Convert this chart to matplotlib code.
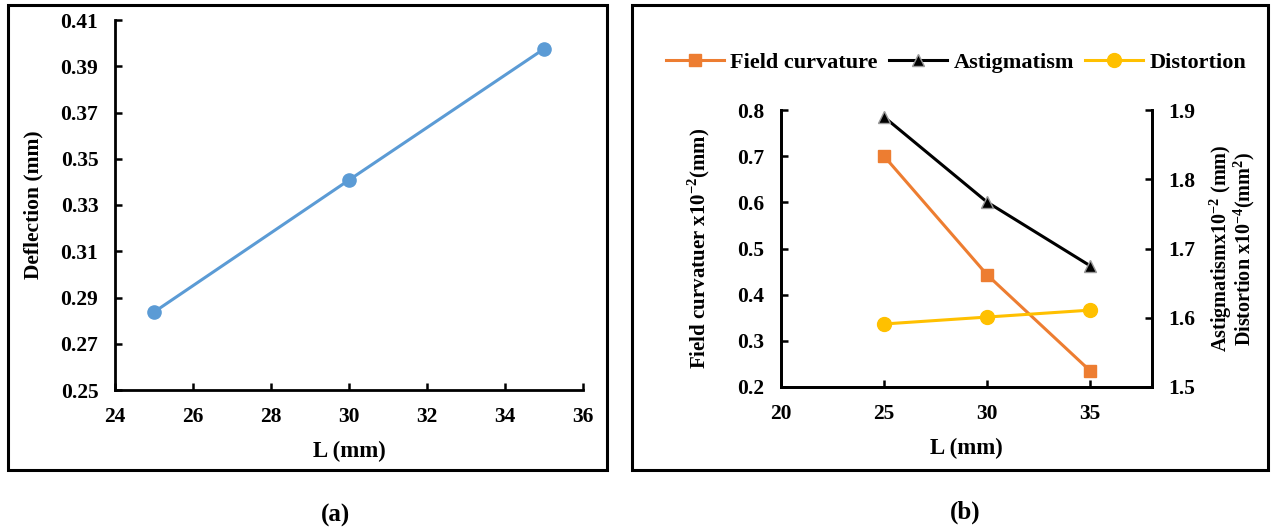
import matplotlib
matplotlib.use('Agg')
from matplotlib import pyplot as plt
from matplotlib.patches import Rectangle

plt.rcParams['font.family'] = ['Liberation Serif', 'DejaVu Serif']
plt.rcParams['font.weight'] = 'bold'
plt.rcParams['mathtext.fontset'] = 'custom'
plt.rcParams['mathtext.rm'] = 'Liberation Serif:bold'
plt.rcParams['mathtext.bf'] = 'Liberation Serif:bold'

# panel (a)
L_a = [25, 30, 35]
deflection = [0.2837, 0.3408, 0.3975]
yticks_a = [0.25, 0.27, 0.29, 0.31, 0.33, 0.35, 0.37, 0.39, 0.41]
xticks_a = [24, 26, 28, 30, 32, 34, 36]

# panel (b)
L_b = [25, 30, 35]
field_curv = [0.700, 0.443, 0.235]
astig = [1.890, 1.767, 1.675]
distortion = [1.591, 1.601, 1.611]
xticks_b = [20, 25, 30, 35]
yticks_b = [0.2, 0.3, 0.4, 0.5, 0.6, 0.7, 0.8]
yticks_b2 = [1.5, 1.6, 1.7, 1.8, 1.9]

blue = '#5B9BD5'
orange = '#ED7D31'
yellow = '#FFC000'

fig = plt.figure(figsize=(12.73, 5.27), dpi=100)

# panel frames
for x0, x1 in [(8, 607), (632, 1268)]:
    fig.patches.append(Rectangle((x0 / 1273, 1 - 470 / 527), (x1 - x0) / 1273, 465 / 527,
                                 transform=fig.transFigure, fill=False, lw=2.2, ec='black'))


def style(ax):
    ax.tick_params(direction='in', length=5, width=1.8, labelsize=15.5, pad=12)
    for s in ax.spines.values():
        s.set_linewidth(2)
    for lab in ax.get_xticklabels() + ax.get_yticklabels():
        lab.set_fontweight('bold')


# (a)
ax1 = fig.add_axes([115 / 1273, 1 - 390 / 527, 468 / 1273, 370 / 527])
ax1.plot(L_a, deflection, color=blue, lw=2.2, marker='o', ms=9.5)
ax1.set_xlim(24, 36)
ax1.set_ylim(0.25, 0.41)
ax1.set_xticks(xticks_a)
ax1.set_yticks(yticks_a)
ax1.set_yticklabels(['%.2f' % v for v in yticks_a])
ax1.spines['top'].set_visible(False)
ax1.spines['right'].set_visible(False)
style(ax1)
ax1.set_xlabel('L (mm)', fontsize=16.5, fontweight='bold', labelpad=10)
ax1.set_ylabel('Deflection (mm)', fontsize=15.5, fontweight='bold', labelpad=12)

# (b)
ax2 = fig.add_axes([781 / 1273, 1 - 387 / 527, 371 / 1273, 277 / 527])
l1, = ax2.plot(L_b, field_curv, color=orange, lw=2.2, marker='s', ms=8.5, label='Field curvature')
ax2.set_xlim(20, 38)
ax2.set_ylim(0.2, 0.8)
ax2.set_xticks(xticks_b)
ax2.set_yticks(yticks_b)
ax2.spines['top'].set_visible(False)
style(ax2)
ax2.set_xlabel('L (mm)', fontsize=16.5, fontweight='bold', labelpad=10)
ax2.set_ylabel(r'Field curvatuer x10$^{-2}$(mm)', fontsize=15, fontweight='bold', labelpad=18)

ax3 = ax2.twinx()
l2, = ax3.plot(L_b, astig, color='black', lw=2.2, marker='^', ms=8.5, mfc='black', mec='#999999',
               label='Astigmatism')
l3, = ax3.plot(L_b, distortion, color=yellow, lw=2.2, marker='o', ms=10, label='Distortion')
ax3.set_ylim(1.5, 1.9)
ax3.set_yticks(yticks_b2)
ax3.spines['top'].set_visible(False)
style(ax3)
ax3.set_ylabel('Astigmatismx10$^{-2}$ (mm)\nDistortion x10$^{-4}$(mm$^{2}$)', fontsize=14.5,
               fontweight='bold', labelpad=8, linespacing=0.85)

fig.legend(handles=[l1, l2, l3], loc='center', bbox_to_anchor=(956 / 1273, 1 - 63 / 527), ncol=3,
           frameon=False, prop={'size': 16, 'weight': 'bold'}, handlelength=2.6,
           handletextpad=0.3, columnspacing=0.5)

fig.text(335 / 1273, 1 - 515 / 527, '(a)', fontsize=18, fontweight='bold', ha='center', va='center')
fig.text(965 / 1273, 1 - 512 / 527, '(b)', fontsize=18, fontweight='bold', ha='center', va='center')

fig.savefig('out.png', dpi=100)
